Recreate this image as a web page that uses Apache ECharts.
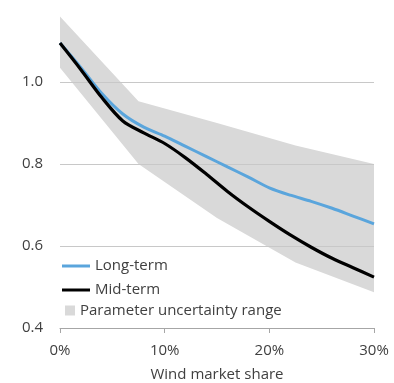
<!DOCTYPE html>
<html><head><meta charset="utf-8">
<script src="https://cdn.jsdelivr.net/npm/echarts@6/dist/echarts.min.js"></script>
<style>html,body{margin:0;padding:0;background:#fff}#c{width:394px;height:383px}</style>
</head><body><div id="c"></div>
<script>
// Data (x = wind market share, %)
var lineX = [0, 2, 4, 6, 8, 10, 12, 14, 16, 18, 20, 22, 24, 26, 28, 30];
var longTerm = [1.095, 1.035, 0.972, 0.922, 0.89, 0.868, 0.843, 0.818, 0.793, 0.768, 0.742, 0.724, 0.709, 0.692, 0.673, 0.654];
var midTerm  = [1.095, 1.030, 0.962, 0.905, 0.876, 0.85, 0.815, 0.775, 0.733, 0.695, 0.66, 0.627, 0.597, 0.57, 0.547, 0.524];
var bandX = [0, 7.5, 15, 22.5, 30];
var bandUpper = [1.16, 0.953, 0.9, 0.845, 0.8];
var bandLower = [1.035, 0.8, 0.668, 0.56, 0.487];
var xTicks = [0, 10, 20, 30];
var yTicks = [0.4, 0.6, 0.8, 1.0];

function pairs(xs, ys){ return xs.map(function(x,i){ return [x, ys[i]]; }); }

var chart = echarts.init(document.getElementById('c'));
var font = '"Open Sans", "Noto Sans", sans-serif';
var txt = '#404040';
chart.setOption({
  animation: false,
  textStyle: {fontFamily: font},
  grid: {left: 60, right: 20, top: 0, bottom: 55, containLabel: false, outerBoundsMode: 'none'},
  legend: [{
    orient: 'vertical', left: 57, top: 251, itemWidth: 28, itemHeight: 3, itemGap: 4,
    icon: 'rect',
    textStyle: {fontSize: 15, color: txt, fontFamily: font, lineHeight: 20},
    data: ['Long-term', 'Mid-term']
  }, {
    orient: 'vertical', left: 60, top: 298, itemWidth: 10, itemHeight: 10,
    icon: 'rect',
    textStyle: {fontSize: 15, color: txt, fontFamily: font},
    data: ['Parameter uncertainty range']
  }],
  xAxis: {
    type: 'value', min: 0, max: 30, interval: 10,
    name: 'Wind market share', nameLocation: 'middle', nameGap: 39,
    nameTextStyle: {fontSize: 15, color: txt},
    axisLine: {lineStyle: {color: '#a6a6a6'}},
    axisTick: {show: true, length: 5, lineStyle: {color: '#a6a6a6'}},
    axisLabel: {fontSize: 15, color: txt, margin: 15, formatter: function(v){ return xTicks.indexOf(v) >= 0 ? v + '%' : ''; }},
    splitLine: {show: false}
  },
  yAxis: {
    type: 'value', min: 0.4, max: 1.2, interval: 0.2, z: 2,
    axisLine: {show: false}, axisTick: {show: false},
    axisLabel: {fontSize: 15, color: txt, margin: 17, showMaxLabel: false,
      formatter: function(v){ return v.toFixed(1); }},
    splitLine: {show: true, showMinLine: false, showMaxLine: false, lineStyle: {color: '#c8c8c8', width: 1}}
  },
  series: [{
    name: 'Parameter uncertainty range', type: 'custom', z: 1,
    itemStyle: {color: '#d9d9d9'},
    data: pairs(bandX, bandUpper),
    encode: {x: 0, y: 1},
    renderItem: function(params, api){
      if (params.dataIndex !== 0) return null;
      var pts = [];
      for (var i = 0; i < bandX.length; i++) pts.push(api.coord([bandX[i], bandUpper[i]]));
      for (var j = bandX.length - 1; j >= 0; j--) pts.push(api.coord([bandX[j], bandLower[j]]));
      return {type: 'polygon', shape: {points: pts}, style: {fill: '#d9d9d9'}};
    }
  }, {
    name: 'Long-term', type: 'line', z: 3, symbol: 'none', smooth: 0.3,
    data: pairs(lineX, longTerm),
    lineStyle: {color: '#5aa5dc', width: 3}, itemStyle: {color: '#5aa5dc'}
  }, {
    name: 'Mid-term', type: 'line', z: 4, symbol: 'none', smooth: 0.3,
    data: pairs(lineX, midTerm),
    lineStyle: {color: '#000000', width: 3.2}, itemStyle: {color: '#000000'}
  }]
});
</script></body></html>
